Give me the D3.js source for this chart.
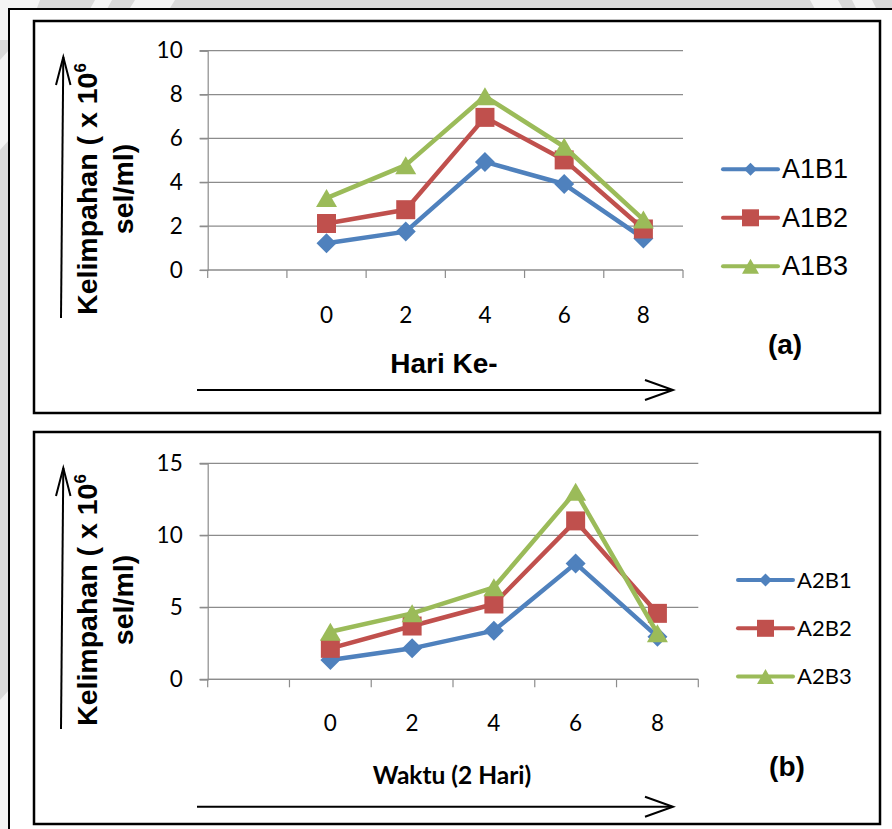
<!DOCTYPE html>
<html><head><meta charset="utf-8">
<script src="https://cdn.jsdelivr.net/npm/d3@7"></script>
<style>html,body{margin:0;padding:0;background:#fff;}svg{display:block;}</style>
</head><body>
<svg id="c" width="892" height="829"></svg>
<script>
// ---------- data ----------
const categories = ["", "0", "2", "4", "6", "8"];
const seriesNamesA = ["A1B1", "A1B2", "A1B3"];
const a1b1 = [null, 1.22, 1.75, 4.93, 3.92, 1.44];
const a1b2 = [null, 2.12, 2.75, 6.96, 5.02, 1.87];
const a1b3 = [null, 3.28, 4.78, 7.92, 5.62, 2.3];
const yTicksA = [0, 2, 4, 6, 8, 10];

const seriesNamesB = ["A2B1", "A2B2", "A2B3"];
const a2b1 = [null, 1.34, 2.15, 3.38, 8.05, 2.96];
const a2b2 = [null, 2.15, 3.7, 5.23, 11.0, 4.58];
const a2b3 = [null, 3.3, 4.58, 6.39, 13.03, 3.19];
const yTicksB = [0, 5, 10, 15];

const colors = ["#4F81BD", "#C0504D", "#9BBB59"];
const markerTypes = ["diamond", "square", "triangle"];

// ---------- drawing ----------
const svg = d3.select("#c");

// page background with faint watermark strips
svg.append("rect").attr("width", 892).attr("height", 829).attr("fill", "#d9d9d9");
const wm = [[0,0,40,0,25,40,0,40],[95,0,112,0,90,40,73,40],[135,0,175,0,150,40,110,40],
            [810,0,838,0,860,40,832,40],[852,0,872,0,892,40,872,40],
            [0,60,9,50,9,140,0,150],[0,700,9,690,9,829,0,829]];
wm.forEach(p => svg.append("polygon").attr("points", p.join(",")).attr("fill", "#f4f4f4"));
svg.append("rect").attr("x", 9).attr("y", 9).attr("width", 900).attr("height", 900)
  .attr("fill", "#fff").attr("stroke", "#000").attr("stroke-width", 2);

function markerPath(type, w, h) {
  if (type === "diamond") return `M0,${-h/2}L${w/2},0L0,${h/2}L${-w/2},0Z`;
  if (type === "square") return `M${-w/2},${-h/2}h${w}v${h}h${-w}Z`;
  return `M0,${-h/2}L${w/2},${h/2}L${-w/2},${h/2}Z`;
}

function drawPanel(cfg) {
  const g = svg.append("g");
  g.append("rect").attr("x", 34).attr("y", cfg.top).attr("width", 846).attr("height", 392)
    .attr("fill", "#fff").attr("stroke", "#000").attr("stroke-width", 2.5);

  const x = d3.scaleBand().domain(categories).range(cfg.xr).padding(0);
  const y = d3.scaleLinear().domain([0, d3.max(cfg.yTicks)]).range(cfg.yr);

  // gridlines
  g.append("g").selectAll("line").data(cfg.yTicks).join("line")
    .attr("x1", cfg.xr[0] - 8).attr("x2", cfg.xr[1])
    .attr("y1", d => y(d)).attr("y2", d => y(d))
    .attr("stroke", "#8c8c8c").attr("stroke-width", 1.2);

  // y axis
  const ya = g.append("g").attr("transform", `translate(${cfg.xr[0]},0)`)
    .call(d3.axisLeft(y).tickValues(cfg.yTicks).tickSize(8).tickPadding(17).tickFormat(d3.format("d")));
  ya.select(".domain").attr("stroke", "#8c8c8c").attr("stroke-width", 1.2);
  ya.selectAll(".tick line").attr("stroke", "#8c8c8c").attr("stroke-width", 1.2);
  ya.selectAll("text").attr("font-family", "Lato, sans-serif").attr("font-size", 22.5).attr("fill", "#000");

  // x axis: labels centered in categories, tick marks on boundaries
  const xa = g.append("g").attr("transform", `translate(0,${cfg.yr[0]})`)
    .call(d3.axisBottom(x).tickSize(0).tickPadding(cfg.xPad));
  xa.select(".domain").remove();
  xa.selectAll("text").attr("font-family", "Lato, sans-serif").attr("font-size", 22.5).attr("fill", "#000");
  const bounds = categories.map(c => x(c)).concat([x.range()[1]]);
  g.append("g").selectAll("line").data(bounds).join("line")
    .attr("x1", d => d).attr("x2", d => d).attr("y1", cfg.yr[0]).attr("y2", cfg.yr[0] + 8)
    .attr("stroke", "#8c8c8c").attr("stroke-width", 1.2);
  g.append("line").attr("x1", cfg.xr[0]).attr("x2", cfg.xr[1]).attr("y1", cfg.yr[0]).attr("y2", cfg.yr[0])
    .attr("stroke", "#8c8c8c").attr("stroke-width", 1.2);

  // series
  const line = d3.line().defined(d => d.v != null)
    .x(d => x(d.c) + x.bandwidth() / 2).y(d => y(d.v));
  const msz = [[20, 20], [19, 19], [21, 18]];
  cfg.series.forEach((vals, i) => {
    const pts = vals.map((v, j) => ({ c: categories[j], v }));
    g.append("path").datum(pts).attr("d", line).attr("fill", "none")
      .attr("stroke", colors[i]).attr("stroke-width", 4.5).attr("stroke-linejoin", "round");
    g.append("g").selectAll("path").data(pts.filter(d => d.v != null)).join("path")
      .attr("transform", d => `translate(${x(d.c) + x.bandwidth() / 2},${y(d.v)})`)
      .attr("d", markerPath(markerTypes[i], msz[i][0], msz[i][1]))
      .attr("fill", colors[i]);
  });

  // legend
  const lsz = [[13, 13], [17, 17], [17, 15]];
  cfg.names.forEach((n, i) => {
    const ly = cfg.legY + i * cfg.legStep;
    g.append("line").attr("x1", cfg.legX).attr("x2", cfg.legX + 55).attr("y1", ly).attr("y2", ly)
      .attr("stroke", colors[i]).attr("stroke-width", 4).attr("stroke-linecap", "round");
    g.append("path").attr("transform", `translate(${cfg.legX + 27.5},${ly})`)
      .attr("d", markerPath(markerTypes[i], lsz[i][0], lsz[i][1])).attr("fill", colors[i]);
    g.append("text").attr("x", cfg.legX + 59).attr("y", ly + cfg.legBase).text(n)
      .attr("font-family", cfg.legFont).attr("font-size", cfg.legSize).attr("fill", "#000");
  });

  // panel letter
  g.append("text").attr("x", cfg.letterX).attr("y", cfg.letterY).attr("text-anchor", "middle")
    .attr("font-family", "'Liberation Sans', Arial, sans-serif").attr("font-weight", "bold")
    .attr("font-size", 28).text(cfg.letter);

  // y title (rotated, two lines)
  const cy = cfg.top + 168;
  const t1 = g.append("text").attr("transform", `translate(97,${cy}) rotate(-90)`)
    .attr("text-anchor", "middle").attr("font-family", "'Liberation Sans', Arial, sans-serif")
    .attr("font-weight", "bold").attr("font-size", 28.5);
  t1.append("tspan").text("Kelimpahan ( x 10");
  t1.append("tspan").attr("font-size", 17).attr("dy", -11).text("6");
  g.append("text").attr("transform", `translate(133,${cy}) rotate(-90)`)
    .attr("text-anchor", "middle").attr("font-family", "'Liberation Sans', Arial, sans-serif")
    .attr("font-weight", "bold").attr("font-size", 28.5).text("sel/ml)");

  // y arrow
  const ay0 = cfg.top + 297, ay1 = cfg.top + 36;
  g.append("line").attr("x1", 61).attr("y1", ay0).attr("x2", 63.3).attr("y2", ay1)
    .attr("stroke", "#000").attr("stroke-width", 2);
  g.append("path").attr("d", `M56,${ay1 + 28}L63.3,${ay1}L70.5,${ay1 + 28}`)
    .attr("fill", "none").attr("stroke", "#000").attr("stroke-width", 2);

  // x title and arrow
  g.append("text").attr("x", cfg.xtX).attr("y", cfg.xtY).attr("text-anchor", "middle")
    .attr("font-family", cfg.xtFont).attr("font-weight", "bold").attr("font-size", cfg.xtSize).text(cfg.xTitle);
  const axy = cfg.arrowY;
  g.append("line").attr("x1", 197).attr("x2", 672).attr("y1", axy).attr("y2", axy)
    .attr("stroke", "#000").attr("stroke-width", 2);
  g.append("path").attr("d", `M645,${axy - 10}L673,${axy}L645,${axy + 10}`)
    .attr("fill", "none").attr("stroke", "#000").attr("stroke-width", 2);
}

drawPanel({
  top: 21, xr: [207.7, 683], yr: [270, 50.7], yTicks: yTicksA, xPad: 37,
  series: [a1b1, a1b2, a1b3], names: seriesNamesA,
  legX: 723, legY: 169.3, legStep: 48.5, legBase: 9, legFont: "'Liberation Sans', Arial, sans-serif", legSize: 27,
  letter: "(a)", letterX: 785, letterY: 354,
  xTitle: "Hari Ke-", xtX: 444, xtY: 373, xtFont: "'Liberation Sans', Arial, sans-serif", xtSize: 28,
  arrowY: 390
});
drawPanel({
  top: 432, xr: [207.7, 698.3], yr: [679.3, 463.3], yTicks: yTicksB, xPad: 36,
  series: [a2b1, a2b2, a2b3], names: seriesNamesB,
  legX: 738, legY: 580, legStep: 48.3, legBase: 7.5, legFont: "Lato, sans-serif", legSize: 22,
  letter: "(b)", letterX: 787, letterY: 776,
  xTitle: "Waktu (2 Hari)", xtX: 452, xtY: 784, xtFont: "Lato, sans-serif", xtSize: 24.5,
  arrowY: 806.7
});
</script>
</body></html>
